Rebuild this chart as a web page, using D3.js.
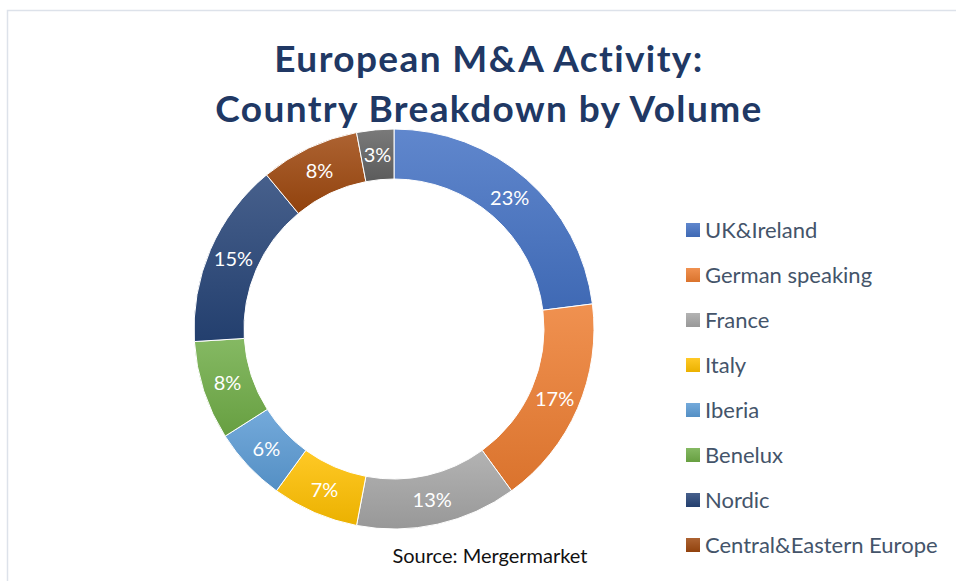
<!DOCTYPE html>
<head>
    <meta charset="utf-8">
    <script src="https://cdn.jsdelivr.net/npm/d3@7"></script>
    <style>
        body { margin: 0; background: white; }
        text { font-family: Lato, "Open Sans", sans-serif; }
    </style>
</head>
<body>
<script>

    var categories = ["UK&Ireland", "German speaking", "France", "Italy", "Iberia", "Benelux", "Nordic", "Central&Eastern Europe", "Other"];
    var values = [23, 17, 13, 7, 6, 8, 15, 8, 3];
    var colors = ["#4472C4", "#ED7D31", "#A5A5A5", "#FFC000", "#5B9BD5", "#70AD47", "#264478", "#9E480E", "#636363"];
    var legendItems = ["UK&Ireland", "German speaking", "France", "Italy", "Iberia", "Benelux", "Nordic", "Central&Eastern Europe"];
    var titleLines = ["European M&A Activity:", "Country Breakdown by Volume"];

    var svg = d3.select("body").append("svg")
        .attr("width", 956)
        .attr("height", 581);

    // chart border
    svg.append("rect")
        .attr("x", 7.5).attr("y", 10.5)
        .attr("width", 1000).attr("height", 700)
        .attr("fill", "none")
        .attr("stroke", "#dde2ea")
        .attr("stroke-width", 1.5);

    // gradients, lighter on top like Excel
    var defs = svg.append("defs");
    colors.forEach(function(c, i) {
        var g = defs.append("linearGradient")
            .attr("id", "grad" + i)
            .attr("x1", 0).attr("y1", 0).attr("x2", 0).attr("y2", 1);
        g.append("stop").attr("offset", "0%").attr("stop-color", d3.interpolateRgb(c, "white")(0.15));
        g.append("stop").attr("offset", "100%").attr("stop-color", d3.interpolateRgb(c, "black")(0.08));
    });

    var title = svg.append("text")
        .attr("text-anchor", "middle")
        .style("font-size", "37px")
        .style("font-weight", "bold")
        .style("letter-spacing", "1.4px")
        .style("fill", "#203864");
    title.selectAll("tspan").data(titleLines).enter().append("tspan")
        .attr("x", 489)
        .attr("y", function(d, i) { return 72 + i * 50; })
        .text(function(d) { return d; });

    var cx = 394, cy = 329, outerR = 200, innerR = 150;

    var pie = d3.pie().sort(null).value(function(d) { return d; });
    var arc = d3.arc().innerRadius(innerR).outerRadius(outerR);
    var labelArc = d3.arc().innerRadius((innerR + outerR) / 2).outerRadius((innerR + outerR) / 2);

    var g = svg.append("g").attr("transform", "translate(" + cx + "," + cy + ")");
    var arcs = pie(values);

    g.selectAll("path").data(arcs).enter().append("path")
        .attr("d", arc)
        .attr("fill", function(d, i) { return "url(#grad" + i + ")"; })
        .attr("stroke", "white")
        .attr("stroke-width", 1);

    g.selectAll("text").data(arcs).enter().append("text")
        .attr("transform", function(d) { return "translate(" + labelArc.centroid(d) + ")"; })
        .attr("text-anchor", "middle")
        .attr("dy", "0.35em")
        .style("font-size", "20px")
        .style("fill", "white")
        .text(function(d) { return d.data + "%"; });

    // legend
    var legend = svg.append("g").attr("transform", "translate(686,230)");
    var item = legend.selectAll("g").data(legendItems).enter().append("g")
        .attr("transform", function(d, i) { return "translate(0," + (i * 45) + ")"; });
    item.append("rect")
        .attr("x", 0).attr("y", -7)
        .attr("width", 14).attr("height", 14)
        .attr("fill", function(d, i) { return "url(#grad" + i + ")"; });
    item.append("text")
        .attr("x", 19)
        .attr("dy", "0.35em")
        .style("font-size", "22px")
        .style("fill", "#44546A")
        .text(function(d) { return d; });

    svg.append("text")
        .attr("x", 490).attr("y", 563)
        .attr("text-anchor", "middle")
        .style("font-size", "20px")
        .style("fill", "#111")
        .text("Source: Mergermarket");

</script>
</body>
